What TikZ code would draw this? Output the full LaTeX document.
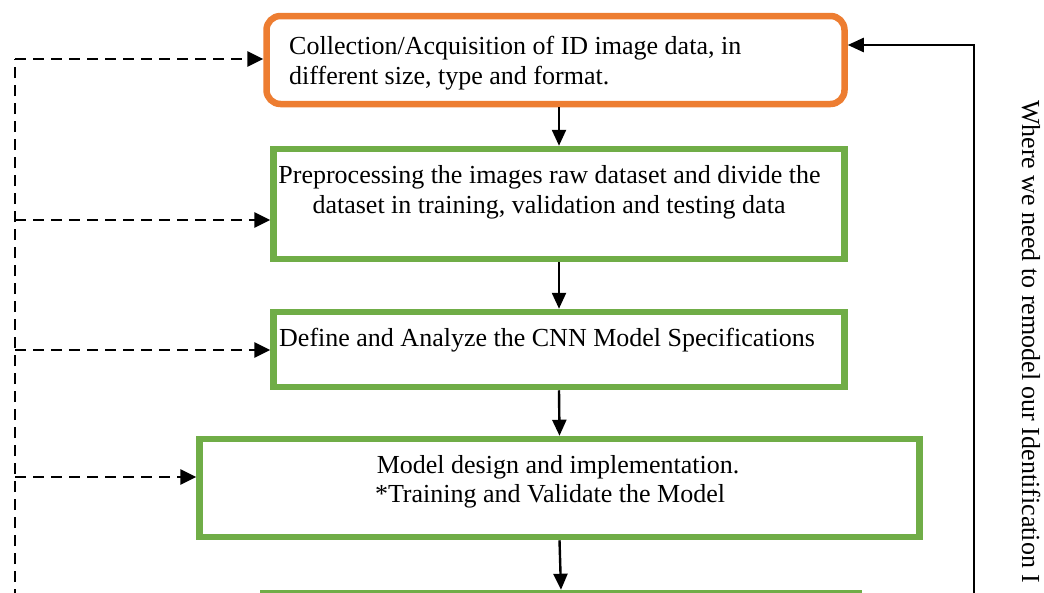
\documentclass[tikz,border=0pt]{standalone}
\usepackage{fontspec}
\setmainfont{Liberation Serif}
\usetikzlibrary{arrows.meta,calc}
\definecolor{boxorange}{HTML}{ED7D31}
\definecolor{boxgreen}{HTML}{70AD47}
\begin{document}
\begin{tikzpicture}[x=1pt,y=-1pt,
  boxbase/.style={rectangle,line width=6.5pt,inner sep=0pt,outer sep=3.25pt},
  greenbox/.style={boxbase,draw=boxgreen},
  orangebox/.style={boxbase,draw=boxorange,rounded corners=14pt},
  txt/.style={inner sep=0pt,font=\fontsize{26}{30}\selectfont},
  flow/.style={line width=2.4pt,-{Triangle[length=16pt,width=14pt]}},
  feedback/.style={line width=2.8pt,dash pattern=on 11pt off 7pt},
  fbarrow/.style={feedback,-{Triangle[length=16pt,width=15pt]}},
  loopline/.style={line width=2.4pt}]
\useasboundingbox (0,0) rectangle (1044,592);
\clip (0,0) rectangle (1044,592);
% boxes
\node[orangebox,minimum width=578pt,minimum height=88pt] (b1) at (555.5,60) {};
\node[greenbox,minimum width=571pt,minimum height=110pt] (b2) at (559,204) {};
\node[greenbox,minimum width=571pt,minimum height=75pt] (b3) at (559,349.5) {};
\node[greenbox,minimum width=720pt,minimum height=98pt] (b4) at (559.5,488) {};
\node[greenbox,minimum width=595pt,minimum height=100pt] (b5) at (561,643) {};
% texts
\node[txt,anchor=base west] (t1a) at (289,54) {Collection/Acquisition of ID image data, in};
\node[txt,anchor=base west] (t1b) at (289,84) {different size, type and format.};
\node[txt,anchor=base] (t2a) at (549.5,183) {Preprocessing the images raw dataset and divide the};
\node[txt,anchor=base] (t2b) at (549,213) {dataset in training, validation and testing data};
\node[txt,anchor=base west] (t3) at (279,346) {Define and Analyze the CNN Model Specifications};
\node[txt,anchor=base] (t4a) at (558,473) {Model design and implementation.};
\node[txt,anchor=base] (t4b) at (550,502) {*Training and Validate the Model};
\node[txt,anchor=base west,rotate=-90] (side) at (1022,100) {Where we need to remodel our Identification I};
% flow arrows
\draw[flow] (b1.south -| b2.north) -- (b2.north);
\draw[flow] (b2.south) -- (b3.north);
\draw[flow] (b3.south) -- (b4.north);
\draw[flow] (b4.south) -- (b5.north);
% dashed feedback
\coordinate (f1) at (15,59);
\coordinate (f2) at (15,220);
\coordinate (f3) at (15,350);
\coordinate (f4) at (15,477);
\coordinate (f0) at (15,600);
\draw[feedback] (f0) -- (f1);
\draw[fbarrow] (f1) -- (f1 -| b1.west);
\draw[fbarrow] (f2) -- (f2 -| b2.west);
\draw[fbarrow] (f3) -- (f3 -| b3.west);
\draw[fbarrow] (f4) -- (f4 -| b4.west);
% right loop
\coordinate (r0) at (974,600);
\coordinate (r1) at (974,45);
\draw[loopline,-{Triangle[length=16pt,width=14pt]}] (r0) -- (r1) -- (r1 -| b1.east);
\end{tikzpicture}
\end{document}
